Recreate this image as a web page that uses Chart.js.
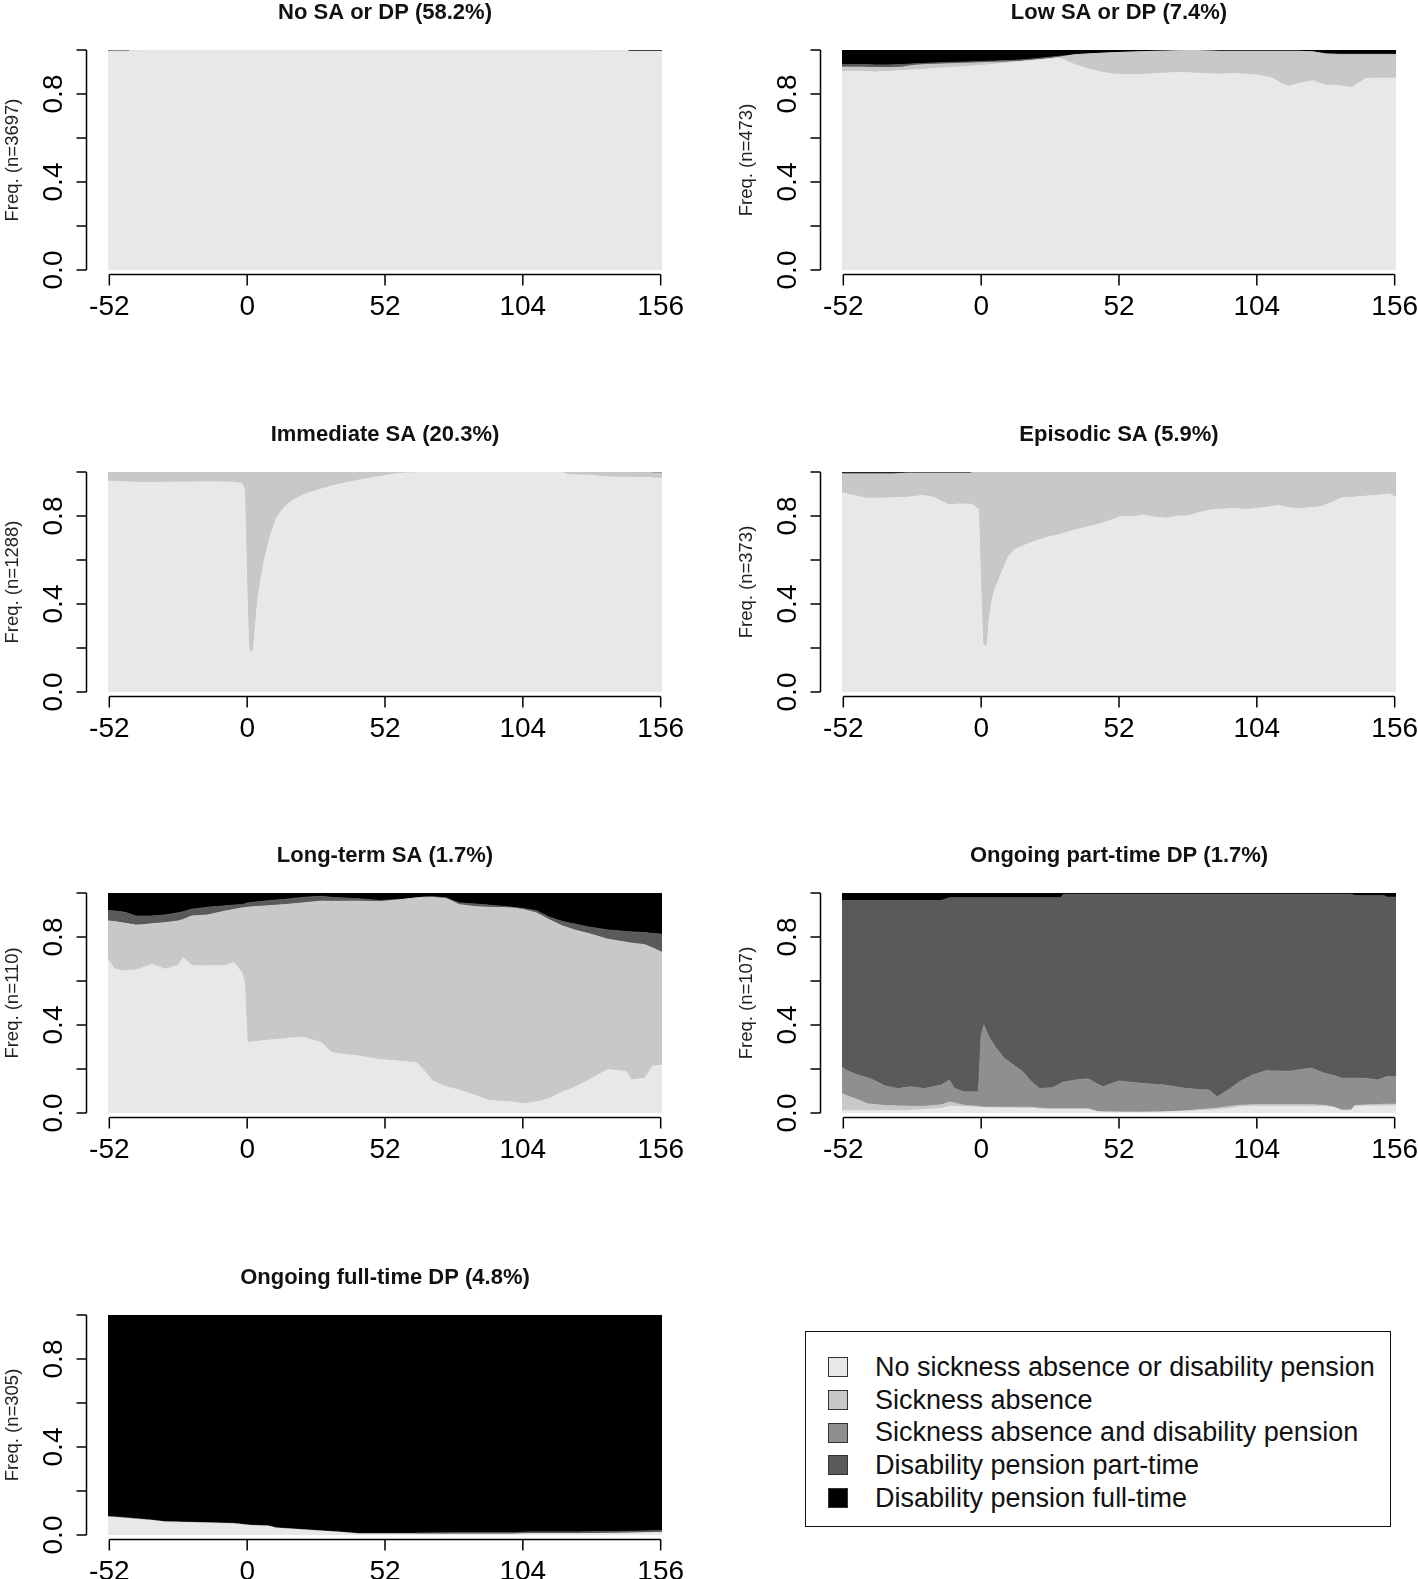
<!DOCTYPE html>
<html lang="en">
  <head>
    <meta charset="UTF-8" />
    <title>State distribution plots by cluster</title>
    <script src="https://cdn.jsdelivr.net/npm/chart.js"></script>
    <style>
      html, body {
        margin: 0;
        padding: 0;
        background: #fff;
        overflow: hidden;
      }
      body {
        width: 1418px;
        height: 1579px;
        position: relative;
        font-family: "Liberation Sans", Arial, sans-serif;
      }
      canvas {
        position: absolute;
      }
      .legend {
        position: absolute;
        left: 805px;
        top: 1331px;
        width: 586px;
        height: 196px;
        box-sizing: border-box;
        border: 1.5px solid #111;
        padding-top: 19px;
      }
      .legend .row {
        height: 32.7px;
        display: flex;
        align-items: center;
        font-size: 27px;
        color: #111;
        white-space: nowrap;
      }
      .legend .box {
        width: 18px;
        height: 18px;
        margin-left: 22px;
        margin-right: 27px;
        border: 1px solid #333;
        flex: none;
      }
    </style>
  </head>
  <body>
    <div class="legend" id="legend"></div>

    <script>
      // axis ticks (weeks relative to index date) and y ticks
      const xTicks = [-52, 0, 52, 104, 156];
      const yTicks = [0, 0.2, 0.4, 0.6, 0.8, 1];
      const yTickLabels = { 0: "0.0", 0.4: "0.4", 0.8: "0.8" };

      const stateLabels = [
        "No sickness absence or disability pension",
        "Sickness absence",
        "Sickness absence and disability pension",
        "Disability pension part-time",
        "Disability pension full-time",
      ];
      const stateColors = ["#E8E8E8", "#C8C8C8", "#8F8F8F", "#5A5A5A", "#000000"];

      // ---- No SA or DP ----
      const p1Weeks = [-52.5, -44.5, -44.4, -38.5, -38.4, 131.5, 131.6, 143.5, 143.6, 156.5];
      const p1None = [0.994, 0.994, 0.997, 0.997, 1, 1, 0.997, 0.997, 0.993, 0.993];
      const p1SA = [0.001, 0.001, 0.003, 0.003, 0, 0, 0.003, 0.003, 0.001, 0.001];
      const p1DPpart = [0.001, 0.001, 0, 0, 0, 0, 0, 0, 0.001, 0.001];
      const p1DPfull = [0.004, 0.004, 0, 0, 0, 0, 0, 0, 0.005, 0.005];

      // ---- Low SA or DP ----
      const p2Weeks = [-52.5, -45, -40, -35, -30, -25, -20, -15, -10, -5, 0, 5, 10, 15, 20, 25, 30, 35, 40, 45, 50,
        55, 60, 65, 70, 75, 80, 85, 90, 95, 100, 105, 110, 113, 116, 120, 125, 130, 135, 140, 145, 150, 156.5];
      const p2None = [0.902, 0.903, 0.9, 0.903, 0.906, 0.91, 0.914, 0.918, 0.921, 0.925, 0.93, 0.935, 0.94, 0.947,
        0.952, 0.958, 0.962, 0.935, 0.915, 0.9, 0.89, 0.888, 0.888, 0.892, 0.895, 0.898, 0.895, 0.892, 0.89, 0.893,
        0.89, 0.885, 0.872, 0.85, 0.835, 0.848, 0.86, 0.84, 0.838, 0.83, 0.87, 0.872, 0.872];
      const p2SA = [0.02, 0.019, 0.02, 0.017, 0.016, 0.021, 0.02, 0.018, 0.017, 0.015, 0.012, 0.009, 0.006, 0.002,
        0.002, 0.002, 0.006, 0.043, 0.067, 0.085, 0.098, 0.102, 0.104, 0.102, 0.1, 0.099, 0.103, 0.104, 0.104, 0.101,
        0.104, 0.109, 0.122, 0.144, 0.159, 0.146, 0.132, 0.142, 0.142, 0.15, 0.11, 0.108, 0.108];
      const p2DPpart = [0.012, 0.012, 0.012, 0.012, 0.012, 0.006, 0.006, 0.006, 0.006, 0.006, 0.006, 0.006, 0.006,
        0.006, 0.006, 0.006, 0.004, 0, 0, 0, 0, 0, 0, 0, 0, 0, 0, 0, 0, 0, 0, 0, 0, 0, 0, 0, 0, 0, 0, 0, 0, 0, 0];
      const p2DPfull = [0.066, 0.066, 0.068, 0.068, 0.066, 0.063, 0.06, 0.058, 0.056, 0.054, 0.052, 0.05, 0.048,
        0.045, 0.04, 0.034, 0.028, 0.022, 0.018, 0.015, 0.012, 0.01, 0.008, 0.006, 0.005, 0.003, 0.002, 0.004, 0.006,
        0.006, 0.006, 0.006, 0.006, 0.006, 0.006, 0.006, 0.008, 0.018, 0.02, 0.02, 0.02, 0.02, 0.02];

      // ---- Immediate SA ----
      const p3Weeks = [-52.5, -45, -40, -30, -20, -10, -5, -2, -1, 0, 0.6, 1.5, 2.4, 3, 4, 5, 6.5, 8.5, 11, 14, 17,
        21, 25, 30, 35, 40, 45, 50, 55, 60, 70, 90, 110, 119, 121, 130, 135, 145, 152, 153, 156.5];
      const p3None = [0.958, 0.955, 0.952, 0.953, 0.955, 0.955, 0.953, 0.948, 0.92, 0.42, 0.2, 0.18, 0.19, 0.28,
        0.42, 0.5, 0.6, 0.7, 0.79, 0.84, 0.87, 0.895, 0.912, 0.93, 0.945, 0.958, 0.97, 0.98, 0.99, 0.996, 0.998,
        0.999, 0.999, 0.998, 0.988, 0.985, 0.978, 0.975, 0.975, 0.972, 0.972];
      const p3SA = [0.042, 0.045, 0.048, 0.047, 0.045, 0.045, 0.047, 0.052, 0.08, 0.58, 0.8, 0.82, 0.81, 0.72, 0.58,
        0.5, 0.4, 0.3, 0.21, 0.16, 0.13, 0.105, 0.088, 0.07, 0.055, 0.042, 0.03, 0.02, 0.01, 0.004, 0.002, 0.001,
        0.001, 0.002, 0.012, 0.015, 0.022, 0.025, 0.025, 0.024, 0.024];
      const p3DPpart = [0, 0, 0, 0, 0, 0, 0, 0, 0, 0, 0, 0, 0, 0, 0, 0, 0, 0, 0, 0, 0, 0, 0, 0, 0, 0, 0, 0, 0, 0, 0,
        0, 0, 0, 0, 0, 0, 0, 0, 0.004, 0.004];

      // ---- Episodic SA ----
      const p4Weeks = [-52.5, -48, -43, -35, -33, -28, -22, -18, -12, -8, -4, -3, -1, 0, 0.6, 1.5, 2.4, 3, 4, 5, 7,
        9, 10.5, 13, 16, 19, 24, 29, 35, 40, 45, 50, 53, 57, 61, 65, 70, 74, 78, 82, 86, 90, 95, 100, 104, 108, 112,
        116, 120, 124, 128, 132, 136, 140, 145, 150, 154, 156.5];
      const p4None = [0.905, 0.893, 0.88, 0.882, 0.883, 0.885, 0.893, 0.885, 0.85, 0.855, 0.853, 0.85, 0.83, 0.42,
        0.22, 0.205, 0.22, 0.33, 0.41, 0.46, 0.52, 0.58, 0.62, 0.65, 0.665, 0.68, 0.7, 0.715, 0.735, 0.75, 0.765,
        0.785, 0.8, 0.795, 0.805, 0.795, 0.79, 0.8, 0.8, 0.815, 0.826, 0.83, 0.834, 0.83, 0.834, 0.84, 0.848, 0.838,
        0.832, 0.838, 0.842, 0.86, 0.882, 0.885, 0.89, 0.895, 0.9, 0.885];
      const p4SA = [0.086, 0.098, 0.111, 0.109, 0.108, 0.11, 0.102, 0.11, 0.145, 0.14, 0.142, 0.15, 0.17, 0.58, 0.78,
        0.795, 0.78, 0.67, 0.59, 0.54, 0.48, 0.42, 0.38, 0.35, 0.335, 0.32, 0.3, 0.285, 0.265, 0.25, 0.235, 0.215,
        0.2, 0.205, 0.195, 0.205, 0.21, 0.2, 0.2, 0.185, 0.174, 0.17, 0.166, 0.17, 0.166, 0.16, 0.152, 0.162, 0.168,
        0.162, 0.158, 0.14, 0.118, 0.115, 0.11, 0.105, 0.1, 0.115];
      const p4DPpart = [0.004, 0.004, 0.004, 0.004, 0.004, 0, 0, 0, 0, 0, 0, 0, 0, 0, 0, 0, 0, 0, 0, 0, 0, 0, 0, 0,
        0, 0, 0, 0, 0, 0, 0, 0, 0, 0, 0, 0, 0, 0, 0, 0, 0, 0, 0, 0, 0, 0, 0, 0, 0, 0, 0, 0, 0, 0, 0, 0, 0, 0];
      const p4DPfull = [0.005, 0.005, 0.005, 0.005, 0.005, 0.005, 0.005, 0.005, 0.005, 0.005, 0.005, 0, 0, 0, 0, 0,
        0, 0, 0, 0, 0, 0, 0, 0, 0, 0, 0, 0, 0, 0, 0, 0, 0, 0, 0, 0, 0, 0, 0, 0, 0, 0, 0, 0, 0, 0, 0, 0, 0, 0, 0, 0,
        0, 0, 0, 0, 0, 0];

      // ---- Long-term SA ----
      const p5Weeks = [-52.5, -50, -46, -42, -39, -36, -31, -26, -24, -21, -15, -9, -5, -2, -1, 0, 8, 15, 21, 28,
        32, 42, 50, 58, 64, 67, 70, 75, 80, 86, 91, 100, 104, 109, 114, 119, 124, 129, 136, 143, 145, 150, 153, 156.5];
      const p5None = [0.7, 0.653, 0.646, 0.65, 0.661, 0.676, 0.653, 0.672, 0.707, 0.669, 0.669, 0.669, 0.684, 0.638,
        0.59, 0.32, 0.331, 0.339, 0.344, 0.32, 0.274, 0.259, 0.243, 0.235, 0.228, 0.189, 0.146, 0.119, 0.104, 0.08,
        0.057, 0.05, 0.042, 0.05, 0.065, 0.096, 0.119, 0.15, 0.197, 0.189, 0.15, 0.158, 0.212, 0.217];
      const p5SA = [0.173, 0.217, 0.216, 0.204, 0.195, 0.184, 0.212, 0.201, 0.173, 0.226, 0.231, 0.247, 0.241, 0.294,
        0.343, 0.615, 0.611, 0.609, 0.611, 0.643, 0.688, 0.704, 0.717, 0.735, 0.75, 0.792, 0.834, 0.856, 0.843,
        0.858, 0.878, 0.882, 0.883, 0.86, 0.813, 0.754, 0.711, 0.665, 0.593, 0.587, 0.622, 0.607, 0.538, 0.513];
      const p5DPpart = [0.047, 0.048, 0.05, 0.041, 0.039, 0.035, 0.035, 0.037, 0.035, 0.031, 0.035, 0.025, 0.02,
        0.015, 0.017, 0.02, 0.023, 0.024, 0.025, 0.022, 0.018, 0.011, 0.006, 0, 0, 0, 0.003, 0.003, 0.008, 0.012,
        0.01, 0.003, 0.005, 0.01, 0.012, 0.02, 0.028, 0.03, 0.042, 0.049, 0.051, 0.055, 0.066, 0.083];
      const p5DPfull = [0.08, 0.082, 0.088, 0.105, 0.105, 0.105, 0.1, 0.09, 0.085, 0.074, 0.065, 0.059, 0.055, 0.053,
        0.05, 0.045, 0.035, 0.028, 0.02, 0.015, 0.02, 0.026, 0.034, 0.03, 0.022, 0.019, 0.017, 0.022, 0.045, 0.05,
        0.055, 0.065, 0.07, 0.08, 0.11, 0.13, 0.142, 0.155, 0.168, 0.175, 0.177, 0.18, 0.184, 0.187];

      // ---- Ongoing part-time DP ----
      const p6Weeks = [-52.5, -50, -46.5, -43, -41.5, -36.5, -31.5, -26.5, -21.5, -15, -12, -10, -6.5, -1, 0, 1, 2,
        3, 5.5, 8.5, 12, 15.5, 19, 22, 27, 30, 31, 35.5, 40.5, 44, 46, 52, 60, 69, 77.5, 86, 89, 94, 97.5, 102.5,
        107.5, 116, 124.5, 129.5, 133, 136, 139.5, 141, 144.5, 149.5, 152, 153, 156.5];
      const p6None = [0.01, 0.01, 0.01, 0.01, 0.01, 0.01, 0.01, 0.012, 0.015, 0.02, 0.03, 0.03, 0.028, 0.025, 0.025,
        0.024, 0.024, 0.024, 0.023, 0.022, 0.022, 0.021, 0.02, 0.018, 0.016, 0.015, 0.015, 0.015, 0.015, 0.005,
        0.004, 0.003, 0.003, 0.004, 0.008, 0.012, 0.015, 0.02, 0.028, 0.03, 0.03, 0.03, 0.03, 0.03, 0.026, 0.01,
        0.01, 0.03, 0.032, 0.032, 0.032, 0.032, 0.032];
      const p6SA = [0.078, 0.065, 0.05, 0.032, 0.03, 0.024, 0.022, 0.018, 0.015, 0.017, 0.02, 0.015, 0.007, 0.005,
        0.003, 0.002, 0.002, 0.002, 0.003, 0.004, 0.004, 0.005, 0.006, 0.004, 0.003, 0.004, 0.004, 0.004, 0.004,
        0.001, 0.001, 0.001, 0, 0.001, 0.002, 0.007, 0.007, 0.01, 0.007, 0.007, 0.007, 0.007, 0.007, 0.005, 0,
        0.004, 0.004, 0.004, 0.004, 0.006, 0.008, 0.008, 0.008];
      const p6SADP = [0.119, 0.114, 0.113, 0.118, 0.115, 0.09, 0.079, 0.089, 0.081, 0.09, 0.1, 0.066, 0.061, 0.066,
        0.322, 0.374, 0.344, 0.318, 0.271, 0.225, 0.194, 0.163, 0.116, 0.089, 0.096, 0.116, 0.121, 0.131, 0.136,
        0.124, 0.114, 0.142, 0.132, 0.122, 0.101, 0.085, 0.051, 0.081, 0.107, 0.136, 0.155, 0.152, 0.167, 0.146,
        0.144, 0.144, 0.144, 0.124, 0.122, 0.112, 0.12, 0.126, 0.126];
      const p6DPpart = [0.759, 0.777, 0.793, 0.806, 0.811, 0.842, 0.855, 0.847, 0.855, 0.839, 0.828, 0.867, 0.882,
        0.882, 0.628, 0.578, 0.608, 0.634, 0.681, 0.727, 0.758, 0.789, 0.836, 0.867, 0.863, 0.843, 0.854, 0.844,
        0.839, 0.864, 0.875, 0.848, 0.859, 0.867, 0.883, 0.89, 0.921, 0.883, 0.852, 0.821, 0.802, 0.805, 0.79,
        0.813, 0.824, 0.836, 0.836, 0.83, 0.83, 0.838, 0.828, 0.815, 0.815];
      const p6DPfull = [0.034, 0.034, 0.034, 0.034, 0.034, 0.034, 0.034, 0.034, 0.034, 0.034, 0.022, 0.022, 0.022,
        0.022, 0.022, 0.022, 0.022, 0.022, 0.022, 0.022, 0.022, 0.022, 0.022, 0.022, 0.022, 0.022, 0.006, 0.006,
        0.006, 0.006, 0.006, 0.006, 0.006, 0.006, 0.006, 0.006, 0.006, 0.006, 0.006, 0.006, 0.006, 0.006, 0.006,
        0.006, 0.006, 0.006, 0.006, 0.012, 0.012, 0.012, 0.012, 0.019, 0.019];

      // ---- Ongoing full-time DP ----
      const p7Weeks = [-52.5, -47, -44, -36, -31, -24, -14, -5, 1, 8, 11, 21, 35, 42, 62, 65, 80, 100, 106, 125,
        140, 150, 156.5];
      const p7None = [0.082, 0.077, 0.074, 0.066, 0.059, 0.057, 0.054, 0.051, 0.043, 0.04, 0.031, 0.023, 0.012,
        0.005, 0.005, 0.004, 0.004, 0.004, 0.006, 0.006, 0.008, 0.01, 0.012];
      const p7DPpart = [0.003, 0.003, 0.003, 0.002, 0.002, 0.002, 0.002, 0.002, 0.002, 0.002, 0.002, 0.002, 0.002,
        0.002, 0.002, 0.005, 0.006, 0.006, 0.008, 0.008, 0.008, 0.008, 0.008];
      const p7DPfull = [0.915, 0.92, 0.923, 0.932, 0.939, 0.941, 0.944, 0.947, 0.955, 0.958, 0.967, 0.975, 0.986,
        0.993, 0.993, 0.991, 0.99, 0.99, 0.986, 0.986, 0.984, 0.982, 0.98];

      // series order = state order (null = state absent in that cluster)
      const panels = [
        { title: "No SA or DP (58.2%)", n: 3697, weeks: p1Weeks, series: [p1None, p1SA, null, p1DPpart, p1DPfull] },
        { title: "Low SA or DP (7.4%)", n: 473, weeks: p2Weeks, series: [p2None, p2SA, null, p2DPpart, p2DPfull] },
        { title: "Immediate SA (20.3%)", n: 1288, weeks: p3Weeks, series: [p3None, p3SA, null, p3DPpart, null] },
        { title: "Episodic SA (5.9%)", n: 373, weeks: p4Weeks, series: [p4None, p4SA, null, p4DPpart, p4DPfull] },
        { title: "Long-term SA (1.7%)", n: 110, weeks: p5Weeks, series: [p5None, p5SA, null, p5DPpart, p5DPfull] },
        { title: "Ongoing part-time DP (1.7%)", n: 107, weeks: p6Weeks, series: [p6None, p6SA, p6SADP, p6DPpart, p6DPfull] },
        { title: "Ongoing full-time DP (4.8%)", n: 305, weeks: p7Weeks, series: [p7None, null, null, p7DPpart, p7DPfull] },
      ];

      const FONT = '"Liberation Sans", Arial, sans-serif';
      const H = 320;
      const rowTops = [0, 422, 843, 1265];
      const colLefts = [0, 734];
      const colWidths = [700, 684];

      // R-style detached axes, title and y label
      const rAxes = {
        id: "rAxes",
        afterDraw(chart, args, opts) {
          const { ctx, chartArea: a } = chart;
          const x = chart.scales.x;
          const y = chart.scales.y;
          ctx.save();
          ctx.strokeStyle = "#000";
          ctx.fillStyle = "#000";
          ctx.lineWidth = 1.5;

          const ax = a.left - 21.5;
          const ay = a.bottom + 4.5;
          ctx.beginPath();
          ctx.moveTo(ax, y.getPixelForValue(0));
          ctx.lineTo(ax, y.getPixelForValue(1));
          yTicks.forEach((v) => {
            const py = y.getPixelForValue(v);
            ctx.moveTo(ax, py);
            ctx.lineTo(ax - 10, py);
          });
          ctx.moveTo(x.getPixelForValue(xTicks[0]), ay);
          ctx.lineTo(x.getPixelForValue(xTicks[xTicks.length - 1]), ay);
          xTicks.forEach((w) => {
            const px = x.getPixelForValue(w);
            ctx.moveTo(px, ay);
            ctx.lineTo(px, ay + 11);
          });
          ctx.stroke();

          // x tick labels
          ctx.font = "28px " + FONT;
          ctx.textAlign = "center";
          ctx.textBaseline = "alphabetic";
          xTicks.forEach((w) => ctx.fillText(String(w), x.getPixelForValue(w), a.bottom + 45));

          // y tick labels, rotated like R's default
          Object.keys(yTickLabels).forEach((k) => {
            ctx.save();
            ctx.translate(a.left - 46, y.getPixelForValue(Number(k)));
            ctx.rotate(-Math.PI / 2);
            ctx.fillText(yTickLabels[k], 0, 0);
            ctx.restore();
          });

          // y axis title
          ctx.save();
          ctx.font = "18.5px " + FONT;
          ctx.translate(a.left - 90, (a.top + a.bottom) / 2);
          ctx.rotate(-Math.PI / 2);
          ctx.fillStyle = "#222";
          ctx.fillText("Freq. (n=" + opts.n + ")", 0, 0);
          ctx.restore();

          // panel title
          ctx.font = "bold 22px " + FONT;
          ctx.fillStyle = "#111";
          ctx.fillText(opts.title, (a.left + a.right) / 2, a.top - 31);
          ctx.restore();
        },
      };

      panels.forEach((p, i) => {
        const col = i % 2;
        const row = Math.floor(i / 2);
        const canvas = document.createElement("canvas");
        canvas.width = colWidths[col];
        canvas.height = H;
        canvas.style.left = colLefts[col] + "px";
        canvas.style.top = rowTops[row] + "px";
        canvas.style.width = colWidths[col] + "px";
        canvas.style.height = H + "px";
        document.body.appendChild(canvas);

        const datasets = [];
        p.series.forEach((vals, s) => {
          if (!vals) return;
          datasets.push({
            label: stateLabels[s],
            data: p.weeks.map((w, j) => ({ x: w, y: vals[j] })),
            backgroundColor: stateColors[s],
            borderColor: stateColors[s],
            borderWidth: 1,
            pointRadius: 0,
            tension: 0,
            fill: datasets.length === 0 ? "origin" : "-1",
          });
        });

        new Chart(canvas.getContext("2d"), {
          type: "line",
          data: { datasets },
          options: {
            responsive: false,
            devicePixelRatio: 1,
            animation: false,
            events: [],
            layout: {
              padding: { left: 108, right: colWidths[col] - 662, top: 50, bottom: H - 270 },
            },
            scales: {
              x: { type: "linear", min: -52.5, max: 156.5, display: false },
              y: { min: 0, max: 1, stacked: true, display: false },
            },
            plugins: {
              legend: { display: false },
              tooltip: { enabled: false },
              rAxes: { title: p.title, n: p.n },
            },
          },
          plugins: [rAxes],
        });
      });

      // legend box
      const legend = document.getElementById("legend");
      stateLabels.forEach((label, s) => {
        const row = document.createElement("div");
        row.className = "row";
        const box = document.createElement("span");
        box.className = "box";
        box.style.background = stateColors[s];
        row.appendChild(box);
        row.appendChild(document.createTextNode(label));
        legend.appendChild(row);
      });
    </script>
  </body>
</html>
